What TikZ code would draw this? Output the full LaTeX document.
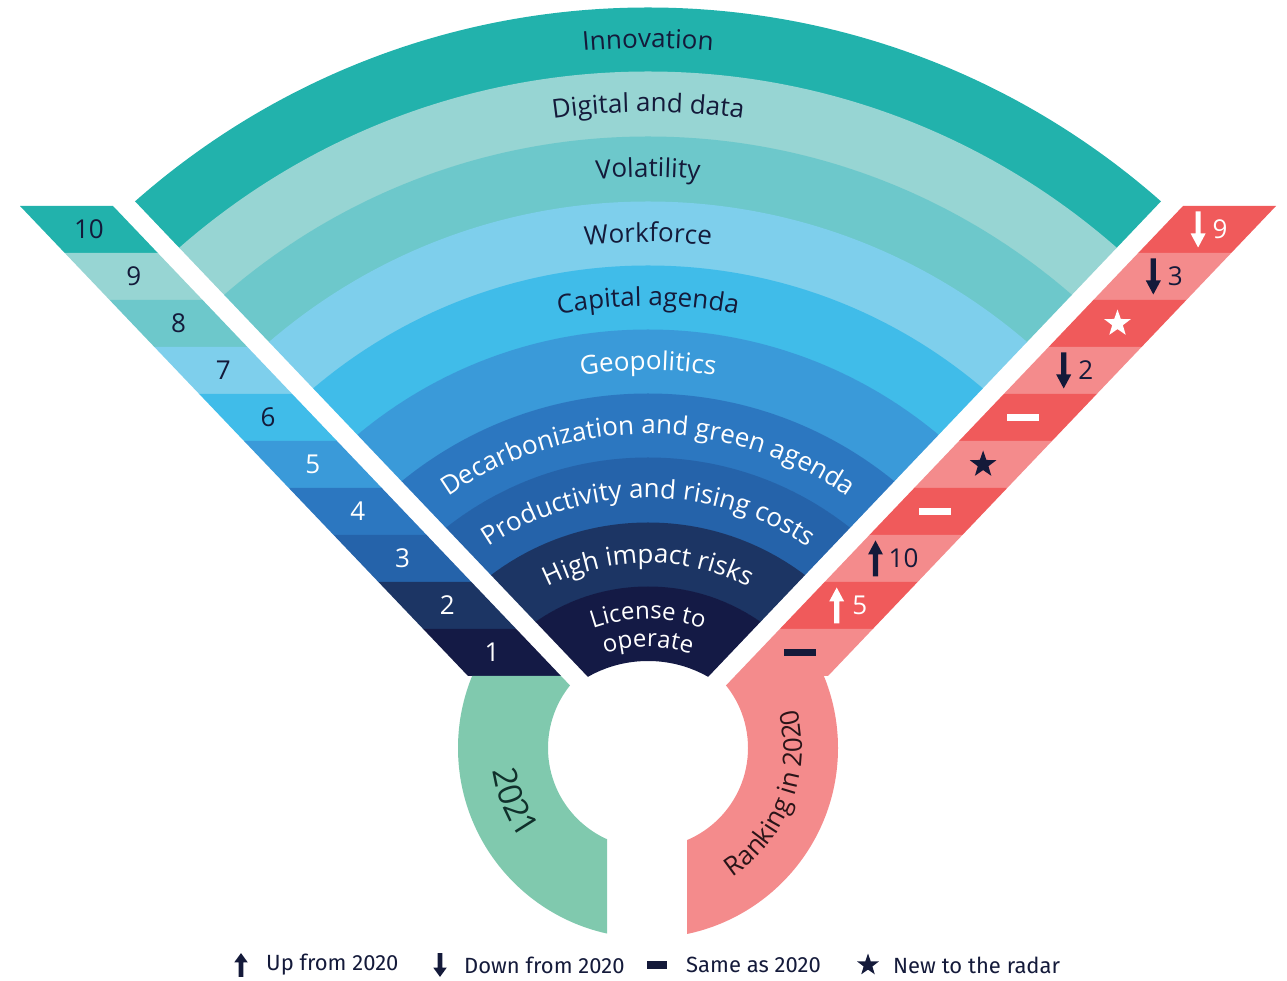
\documentclass[tikz,border=0pt]{standalone}
\usepackage{fontspec}
\setmainfont{Open Sans}
\newfontfamily\legendfont{Fira Sans}
\usetikzlibrary{decorations.text,shapes.geometric}

\definecolor{cInno}{HTML}{22B2AC}
\definecolor{cDigi}{HTML}{97D5D3}
\definecolor{cVola}{HTML}{6DC8CB}
\definecolor{cWork}{HTML}{7ECFEC}
\definecolor{cCapi}{HTML}{40BCE9}
\definecolor{cGeop}{HTML}{3A9AD9}
\definecolor{cDeca}{HTML}{2C77C0}
\definecolor{cProd}{HTML}{2563AA}
\definecolor{cHigh}{HTML}{1C3564}
\definecolor{cLice}{HTML}{141A45}
\definecolor{navy}{HTML}{141A3A}
\definecolor{redDeep}{HTML}{F05A5B}
\definecolor{redLight}{HTML}{F48B8C}
\definecolor{ringGreen}{HTML}{80C9AE}
\definecolor{ringInk}{HTML}{10302B}
\definecolor{redInk}{HTML}{2A1418}

\newcommand{\fanfont}{\fontsize{26}{26}\selectfont}
\newcommand{\smallfanfont}{\fontsize{24}{24}\selectfont}
\newcommand{\ringfont}{\fontsize{33}{33}\selectfont}

\tikzset{
  uparrow/.pic={\fill (-2.6,-18) -- (-2.6,4) -- (-7.5,4) -- (0,18) -- (7.5,4) -- (2.6,4) -- (2.6,-18) -- cycle;},
  downarrow/.pic={\fill (-2.6,18) -- (-2.6,-4) -- (-7.5,-4) -- (0,-18) -- (7.5,-4) -- (2.6,-4) -- (2.6,18) -- cycle;},
  samebar/.pic={\fill (-16,-3.2) rectangle (16,3.2);},
  newstar/.style={star, star points=5, star point ratio=2.5, inner sep=0pt, minimum size=28pt},
  bandnum/.style={font=\fanfont, inner sep=0pt},
  fanlabel/.style={decorate, decoration={text along path, text align=center, text color=#1}},
  legend/.style={font=\legendfont\fontsize{22}{22}\selectfont, text=navy, anchor=west, inner sep=0pt}
}

\begin{document}
\begin{tikzpicture}[x=1pt, y=1pt]
\useasboundingbox (0,0) rectangle (1287,980);

\coordinate (F) at (648,197);
\coordinate (A) at (648,240);
\begin{scope}
\clip (A) -- +(133.6:1200) -- +(46.4:1200) -- cycle;
\foreach \ro/\ri/\c in {775/711/cInno, 711/646/cDigi, 646/581/cVola, 581/517/cWork, 517/453/cCapi, 453/389/cGeop, 389/325/cDeca, 325/260/cProd, 260/196/cHigh, 196/122/cLice}
  \fill[\c, even odd rule] (F) circle (\ro+0.5) (F) circle (\ri);
\end{scope}

\path[fanlabel=navy, decoration={text={|\fanfont|Innovation}}] (F) ++(150:735) arc[start angle=150, end angle=30, radius=735];
\path[fanlabel=navy, decoration={text={|\fanfont|Digital and data}}] (F) ++(150:671) arc[start angle=150, end angle=30, radius=671];
\path[fanlabel=navy, decoration={text={|\fanfont|Volatility}}] (F) ++(150:606) arc[start angle=150, end angle=30, radius=606];
\path[fanlabel=navy, decoration={text={|\fanfont|Workforce}}] (F) ++(150:541) arc[start angle=150, end angle=30, radius=541];
\path[fanlabel=navy, decoration={text={|\fanfont|Capital agenda}}] (F) ++(150:477) arc[start angle=150, end angle=30, radius=477];
\path[fanlabel=white, decoration={text={|\fanfont|Geopolitics}}] (F) ++(150:413) arc[start angle=150, end angle=30, radius=413];
\path[fanlabel=white, decoration={text={|\fanfont|Decarbonization and green agenda}}] (F) ++(150:349) arc[start angle=150, end angle=30, radius=349];
\path[fanlabel=white, decoration={text={|\fanfont|Productivity and rising costs}}] (F) ++(150:285) arc[start angle=150, end angle=30, radius=285];
\path[fanlabel=white, decoration={text={|\fanfont|High impact risks}}] (F) ++(150:220) arc[start angle=150, end angle=30, radius=220];
\path[fanlabel=white, decoration={text={|\smallfanfont|License to}}] (F) ++(150:164) arc[start angle=150, end angle=30, radius=164];
\path[fanlabel=white, decoration={text={|\smallfanfont|operate}}] (F) ++(150:136) arc[start angle=150, end angle=30, radius=136];

\foreach \c/\n/\tc [count=\i from 0] in {cInno/10/navy, cDigi/9/navy, cVola/8/navy, cWork/7/navy, cCapi/6/navy, cGeop/5/white, cDeca/4/white, cProd/3/white, cHigh/2/white, cLice/1/white}
{
  \fill[\c] (20+44.8*\i, 774-47*\i) -- ++(93,0) -- ++(44.8,-47) -- ++(-93,0) -- cycle;
  \node[bandnum, text=\tc] (n\n) at (88.9+44.8*\i, 750.5-47*\i) {\n};
}

\foreach \c [count=\i from 0] in {redDeep, redLight, redDeep, redLight, redDeep, redLight, redDeep, redLight, redDeep, redLight}
{
  \fill[\c] (1276-44.8*\i, 774-47*\i) -- ++(-93,0) -- ++(-44.8,-47) -- ++(93,0) -- cycle;
  \coordinate (r\i) at (1207.1-44.8*\i, 750.5-47*\i);
}

\pic[white] at ([xshift=-9pt]r0) {downarrow};
\node[bandnum, text=white] (p9) at ([xshift=13pt]r0) {9};
\pic[navy] at ([xshift=-9pt]r1) {downarrow};
\node[bandnum, text=navy] (p3) at ([xshift=13pt]r1) {3};
\node[newstar, fill=white] (s1) at (r2) {};
\pic[navy] at ([xshift=-9pt]r3) {downarrow};
\node[bandnum, text=navy] (p2) at ([xshift=13pt]r3) {2};
\pic[white] at ([xshift=-5pt]r4) {samebar};
\node[newstar, fill=navy] (s2) at (r5) {};
\pic[white] at ([xshift=-3pt]r6) {samebar};
\pic[navy] at ([xshift=-18pt]r7) {uparrow};
\node[bandnum, text=navy] (p10) at ([xshift=10pt]r7) {10};
\pic[white] at ([xshift=-12pt]r8) {uparrow};
\node[bandnum, text=white] (p5) at ([xshift=11pt]r8) {5};
\pic[navy] at ([xshift=-4pt]r9) {samebar};

\coordinate (R) at (648,232);
\begin{scope}
\clip (561,304) -- (300,304) -- (300,0) -- (607,0) -- (607,255.7) -- cycle;
\fill[ringGreen, even odd rule] (R) circle (190) (R) circle (100);
\end{scope}
\begin{scope}
\clip (735,304) -- (1000,304) -- (1000,0) -- (687,0) -- (687,253.7) -- cycle;
\fill[redLight, even odd rule] (R) circle (190) (R) circle (100);
\end{scope}

\path[fanlabel=ringInk, decoration={text={|\ringfont|2021}}] (R) ++(170:157) arc[start angle=170, end angle=234, radius=157];
\path[fanlabel=redInk, decoration={text={|\fanfont|Ranking in 2020}}] (R) ++(-76:154) arc[start angle=-76, end angle=34, radius=154];

\pic[navy, xscale=0.9, yscale=0.66] at (241,15) {uparrow};
\node[legend] (lup) at (266,15) {Up from 2020};
\pic[navy, xscale=0.9, yscale=0.66] at (440,15) {downarrow};
\node[legend] (ldown) at (464,15) {Down from 2020};
\pic[navy, xscale=0.62, yscale=1.1] at (657,15) {samebar};
\node[legend] (lsame) at (686,15) {Same as 2020};
\node[newstar, fill=navy, minimum size=23pt] (lstar) at (868,15) {};
\node[legend] (lnew) at (893,15) {New to the radar};

\end{tikzpicture}
\end{document}
